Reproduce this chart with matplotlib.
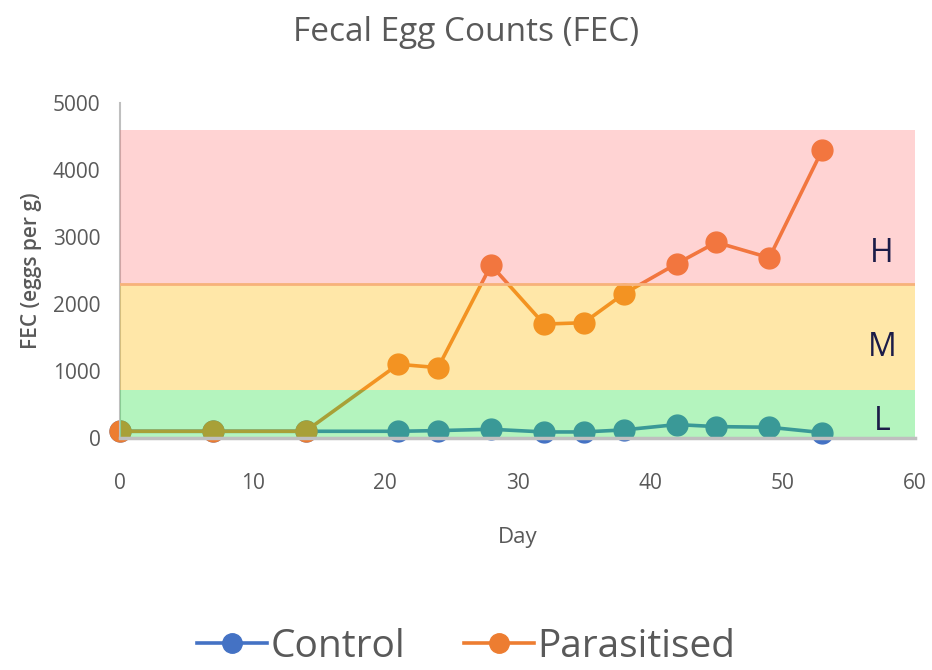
import matplotlib.pyplot as plt
from matplotlib.lines import Line2D

plt.rcParams['font.family'] = ['Open Sans', 'DejaVu Sans']

days = [0, 7, 14, 21, 24, 28, 32, 35, 38, 42, 45, 49, 53]
control = [100, 100, 100, 100, 110, 130, 90, 90, 120, 200, 170, 160, 80]
parasitised = [100, 100, 100, 1100, 1050, 2580, 1700, 1720, 2150, 2600, 2920, 2690, 4300]

# risk bands: (low, high, colour, label)
bands = [(0, 720, (41/255, 226/255, 69/255), 'L'),
         (720, 2300, (1.0, 189/255, 6/255), 'M'),
         (2300, 4600, (1.0, 100/255, 100/255), 'H')]
band_alpha = [0.35, 0.35, 0.28]

blue = '#4472C4'
orange = '#ED7D31'
grey = '#595959'

fig = plt.figure(figsize=(9.32, 6.7), dpi=100)
ax = fig.add_axes([0.1288, 0.3463, 0.853, 0.5])

ax.plot(days, control, color=blue, lw=2.6, marker='o', ms=15, clip_on=False, zorder=2)
ax.plot(days, parasitised, color=orange, lw=2.6, marker='o', ms=15, clip_on=False, zorder=2)

for (lo, hi, col, lab), a in zip(bands, band_alpha):
    ax.axhspan(lo, hi, color=col, alpha=a, lw=0, zorder=3)
ax.axhline(2300, color='#F7B27A', lw=2, zorder=3)

label_y = [250, 1350, 2750]
for (lo, hi, col, lab), yy in zip(bands, label_y):
    ax.text(57.5, yy, lab, fontsize=23, color='#1C1C48', ha='center', va='center', zorder=4)

ax.set_xlim(0, 60)
ax.set_ylim(0, 5000)
ax.set_xticks(range(0, 61, 10))
ax.set_yticks(range(0, 5001, 1000))
ax.tick_params(length=0, labelsize=15, labelcolor=grey)
ax.tick_params(axis='x', pad=25)
ax.tick_params(axis='y', pad=14)
for s in ['top', 'right']:
    ax.spines[s].set_visible(False)
ax.spines['left'].set_color('#BFBFBF')
ax.spines['bottom'].set_color('#BFBFBF')
ax.spines['left'].set_linewidth(1.5)
ax.spines['bottom'].set_linewidth(2.5)
ax.spines['bottom'].set_zorder(4)

ax.set_xlabel('Day', fontsize=16, color=grey, labelpad=24)
ax.set_ylabel('FEC (eggs per g)', fontsize=15, color=grey, fontweight='semibold', labelpad=8)
fig.text(0.50, 0.952, 'Fecal Egg Counts (FEC)', fontsize=24, color=grey, ha='center', va='center')

handles = [Line2D([], [], color=blue, lw=2.6, marker='o', ms=14),
           Line2D([], [], color=orange, lw=2.6, marker='o', ms=14)]
fig.legend(handles, ['Control', 'Parasitised'], loc='center', bbox_to_anchor=(0.5, 0.035),
           ncol=2, frameon=False, fontsize=28, labelcolor=grey, handlelength=1.8,
           handletextpad=0.1, columnspacing=1.5)

fig.savefig('out.png', dpi=100)
